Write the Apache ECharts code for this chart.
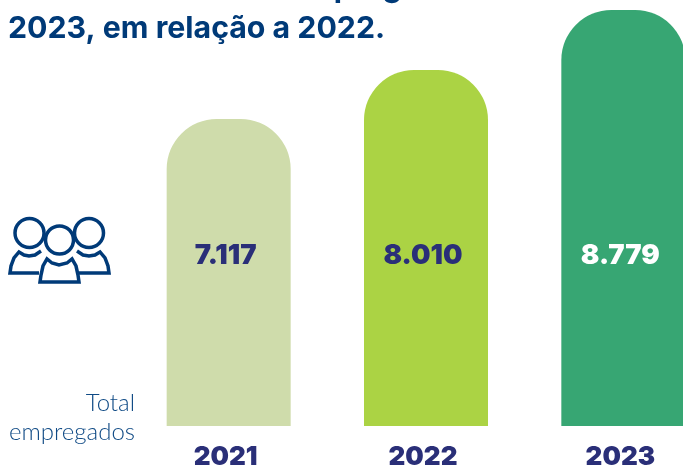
<!DOCTYPE html>
<html>
<head>
<meta charset="utf-8">
<style>html,body{margin:0;padding:0;background:#fff}#chart{width:683px;height:466px}</style>
<script src="https://cdn.jsdelivr.net/npm/echarts@6/dist/echarts.min.js"></script>
</head>
<body>
<div id="chart"></div>
<script>
var years = ['2021', '2022', '2023']
var totals = [7117, 8010, 8779]            // what the labels print
var barHeights = [307, 356, 416]           // bars in the picture are not to scale with totals, read off as drawn
var labelLevel = [170, 170, 170]           // labels all sit on one line
var barColors = ['#cfdcab', '#abd344', '#37a673']
var labelColors = ['#2a2f78', '#2a2f78', '#ffffff']
var navy = '#003a78'

function fmt(n) {
  return String(n).replace(/\B(?=(\d{3})+$)/g, '.')
}

var chart = echarts.init(document.getElementById('chart'), null, {renderer: 'canvas'})

// pessoas icon
var icon = [
  {type: 'circle', shape: {cx: 29.5, cy: 233, r: 14.5}},
  {type: 'circle', shape: {cx: 89, cy: 233, r: 14.5}},
  {type: 'polyline', shape: {points: [[39, 273], [10, 273], [11, 266], [14, 258], [19, 252], [24, 255], [29, 256], [35, 255], [41, 251]]}},
  {type: 'polyline', shape: {points: [[79, 273], [109, 273], [108, 266], [105, 258], [100, 252], [95, 255], [89, 256], [83, 255], [77, 251]]}},
  {type: 'polygon', shape: {points: [[40, 282], [79, 282], [78, 275], [76, 266], [72, 259], [67, 263], [59, 265], [52, 263], [47, 259], [43, 266], [41, 275]]}},
  {type: 'circle', shape: {cx: 59.5, cy: 240, r: 14}}
].map(function (s) {
  s.style = {fill: s.type === 'circle' ? '#fff' : 'none', stroke: navy, lineWidth: 3.5}
  return s
})

chart.setOption({
  animation: false,
  grid: {left: 130, top: 0, width: 592, height: 426, outerBoundsMode: 'none'},
  xAxis: {
    type: 'category',
    data: years,
    axisLine: {show: false},
    axisTick: {show: false},
    axisLabel: {
      margin: 18,
      padding: [0, 6, 0, 0],
      fontFamily: 'Inter',
      fontWeight: 900,
      fontSize: 26,
      color: '#2a2f78',
      hideOverlap: false
    }
  },
  yAxis: {type: 'value', min: 0, max: 426, show: false},
  series: [
    {
      type: 'bar',
      barWidth: 124,
      silent: true,
      data: barHeights.map(function (h, i) {
        return {value: h, itemStyle: {color: barColors[i], borderRadius: [50, 50, 0, 0]}}
      })
    },
    {
      type: 'scatter',
      symbolSize: 0,
      silent: true,
      itemStyle: {opacity: 1},
      data: labelLevel.map(function (v, i) {
        return {
          value: v,
          label: {
            show: true,
            position: 'inside',
            offset: [-3, 0],
            formatter: fmt(totals[i]),
            fontFamily: 'Inter',
            fontWeight: 900,
            fontSize: 27.5,
            opacity: 1,
            color: labelColors[i]
          }
        }
      })
    }
  ],
  graphic: icon.concat([
    {type: 'text', x: 8, y: 14, style: {text: '2023, em relação a 2022.', fontFamily: 'Inter', fontWeight: 700, fontSize: 30.3, fill: navy}},
    {type: 'text', x: 288, y: -27, style: {text: 'empregados', fontFamily: 'Inter', fontWeight: 700, fontSize: 30.3, fill: navy}},
    {type: 'text', x: 135, y: 403, style: {text: 'Total', align: 'right', verticalAlign: 'middle', fontFamily: 'Lato', fontWeight: 300, fontSize: 24, fill: '#0f4a85'}},
    {type: 'text', x: 135, y: 432, style: {text: 'empregados', align: 'right', verticalAlign: 'middle', fontFamily: 'Lato', fontWeight: 300, fontSize: 24, fill: '#0f4a85'}}
  ])
})
</script>
</body>
</html>
